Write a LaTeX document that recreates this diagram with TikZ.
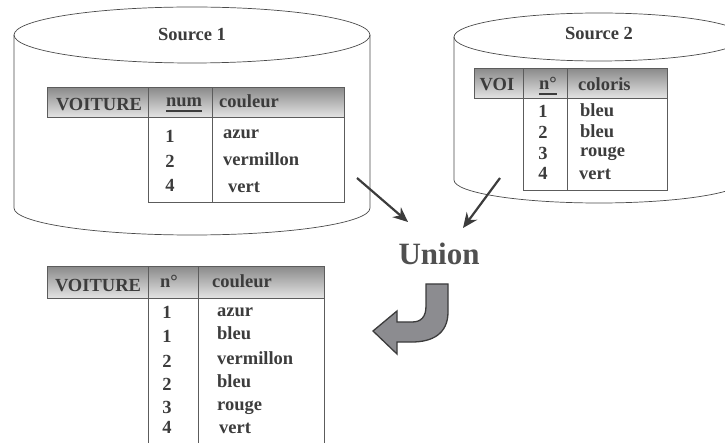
\documentclass[tikz,border=0pt]{standalone}
\usepackage{fontspec}
\setmainfont{Liberation Serif}
\usetikzlibrary{arrows.meta}
\definecolor{ink}{HTML}{3C3C3C}
\definecolor{inkline}{HTML}{4A4A4A}
\definecolor{cellline}{HTML}{5C5C5C}
\definecolor{uniongray}{HTML}{505050}
\definecolor{bendfill}{HTML}{8C8C90}
\newcommand{\tabfont}{\bfseries\fontsize{18.5}{20}\selectfont}

\begin{document}
\begin{tikzpicture}[x=1pt,y=-1pt,
    cyl/.style={draw=inkline,line width=0.7pt},
    headcell/.style={draw=cellline,line width=1pt,top color=gray!90,bottom color=gray!20},
    rule/.style={draw=cellline,line width=1pt},
    uline/.style={draw=ink,line width=1.8pt},
    txt/.style={text=ink,font=\tabfont,inner sep=0pt},
    flow/.style={draw=ink,line width=2.2pt,-{Stealth[length=15pt,width=13pt]}}]
  \useasboundingbox (0,0) rectangle (725,443);

  % Source 1
  \draw[cyl] (192,35) ellipse [x radius=178,y radius=28];
  \draw[cyl] (14,35) -- (14,208) arc[start angle=180,end angle=0,x radius=178,y radius=27] -- (370,35);
  \node[txt,anchor=base] (src1) at (192,41) {Source 1};
  \shadedraw[headcell] (47,88) rectangle (344,118);
  \draw[rule] (148,88) -- (148,203) -- (344,203) -- (344,118);
  \draw[rule] (212,88) -- (212,203);
  \node[txt,anchor=base] (s1tab) at (99,111) {VOITURE};
  \node[txt,anchor=base] (s1num) at (184,107) {num};
  \draw[uline] ([yshift=-4pt]s1num.base west) -- ([yshift=-4pt]s1num.base east);
  \node[txt,anchor=base west] (s1col) at (219,108) {couleur};
  \foreach \n/\yn/\c/\xc/\yc [count=\i] in {1/143/azur/223/139, 2/168/vermillon/223/166, 4/192/vert/228/193} {
    \node[txt,anchor=base] (s1n-\i) at (170,\yn) {\n};
    \node[txt,anchor=base west] (s1c-\i) at (\xc,\yc) {\c};
  }

  % Source 2
  \draw[cyl] (599,37) ellipse [x radius=145,y radius=24];
  \draw[cyl] (454,37) -- (454,180) arc[start angle=180,end angle=0,x radius=145,y radius=23] -- (744,37);
  \node[txt,anchor=base] (src2) at (599,40) {Source 2};
  \shadedraw[headcell] (474,69) rectangle (667,99);
  \draw[rule] (523,69) -- (523,191) -- (667,191) -- (667,99);
  \draw[rule] (567,69) -- (567,191);
  \node[txt,anchor=base] (s2tab) at (497,91) {VOI};
  \node[txt,anchor=base] (s2num) at (548,90) {n°};
  \draw[uline] ([yshift=-4pt]s2num.base west) -- ([yshift=-4pt]s2num.base east);
  \node[txt,anchor=base west] (s2col) at (578,91) {coloris};
  \foreach \n/\yn/\c/\xc/\yc [count=\i] in {1/118/bleu/580/117, 2/139/bleu/580/138, 3/160/rouge/580/157, 4/180/vert/579/180} {
    \node[txt,anchor=base] (s2n-\i) at (543,\yn) {\n};
    \node[txt,anchor=base west] (s2c-\i) at (\xc,\yc) {\c};
  }

  % Union
  \node[font=\bfseries\fontsize{31}{34}\selectfont,text=uniongray,inner sep=0pt,anchor=base] (union) at (439,265) {Union};
  \coordinate (s1out) at (357,178);
  \coordinate (u1) at (408,222);
  \coordinate (s2out) at (500,178);
  \coordinate (u2) at (463,228);
  \draw[flow] (s1out) -- (u1);
  \draw[flow] (s2out) -- (u2);
  \filldraw[fill=bendfill,draw=ink,line width=1.3pt,line join=miter]
    (426,284) -- (448,284) -- (448,312) .. controls (448,334) and (432,342) .. (412,342)
    -- (397,342) -- (397,354) -- (373,331) -- (397,311) -- (397,322) -- (412,322)
    .. controls (421,322) and (426,317) .. (426,306) -- cycle;

  % Result
  \shadedraw[headcell] (47,267) rectangle (324,299);
  \draw[rule] (148,267) -- (148,443);
  \draw[rule] (198,267) -- (198,443);
  \draw[rule] (324,299) -- (324,443);
  \node[txt,anchor=base] (restab) at (98,292) {VOITURE};
  \node[txt,anchor=base] (resnum) at (169,288) {n°};
  \node[txt,anchor=base west] (rescol) at (212,288) {couleur};
  \foreach \n/\yn/\c/\xc/\yc [count=\i] in {1/319/azur/217/317, 1/342/bleu/217/340, 2/367/vermillon/217/364,
      2/390/bleu/217/387, 3/413/rouge/217/410, 4/433/vert/219/433} {
    \node[txt,anchor=base] (rn-\i) at (167,\yn) {\n};
    \node[txt,anchor=base west] (rc-\i) at (\xc,\yc) {\c};
  }
\end{tikzpicture}
\end{document}
